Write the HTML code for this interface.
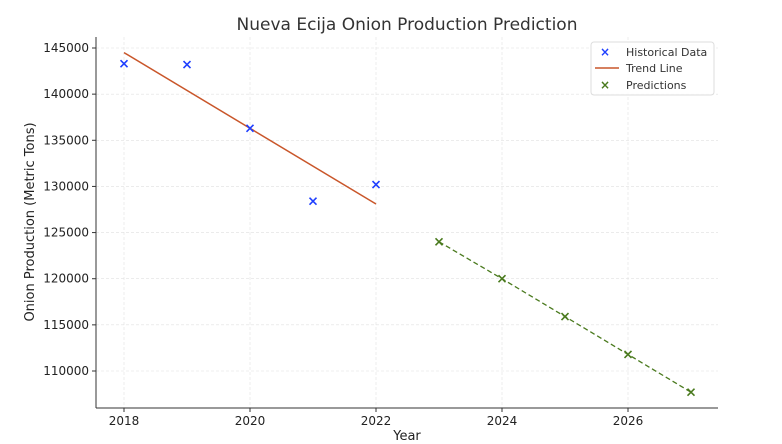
<!DOCTYPE html>
<html><head><meta charset="utf-8"><style>
html,body{margin:0;padding:0;background:#fff;}
svg{display:block;font-family:"DejaVu Sans","Liberation Sans",sans-serif;}
</style></head><body>
<svg id="chart" width="782" height="444" xmlns="http://www.w3.org/2000/svg">
<text x="407" y="30" text-anchor="middle" font-size="17" fill="#333">Nueva Ecija Onion Production Prediction</text>
<g id="grid"></g>
<g id="ticks"></g>
<g id="marks"></g>
<line x1="96" y1="37" x2="96" y2="408" stroke="#333"/>
<line x1="96" y1="408" x2="718" y2="408" stroke="#333"/>
<text x="407" y="440" text-anchor="middle" font-size="13" fill="#222">Year</text>
<text transform="translate(34,222) rotate(-90)" text-anchor="middle" font-size="13" fill="#222">Onion Production (Metric Tons)</text>
<g>
<rect x="591" y="42" width="123" height="53" rx="3" fill="#fff" fill-opacity="0.85" stroke="#ddd"/>
<text x="605" y="56" text-anchor="middle" font-size="12" fill="#1f3fff" font-weight="bold">×</text>
<text x="626" y="56" font-size="11" fill="#333">Historical Data</text>
<line x1="595" y1="68" x2="619" y2="68" stroke="#c9562a" stroke-width="1.5"/>
<text x="626" y="72" font-size="11" fill="#333">Trend Line</text>
<text x="605" y="89" text-anchor="middle" font-size="12" fill="#4a7a1e" font-weight="bold">×</text>
<text x="626" y="89" font-size="11" fill="#333">Predictions</text>
</g>
</svg>
<script>
const histYears=[2018,2019,2020,2021,2022];
const histValues=[143300,143200,136300,128400,130200];
const trendYears=[2018,2022];
const trendValues=[144500,128100];
const predYears=[2023,2024,2025,2026,2027];
const predValues=[124000,120000,115900,111800,107700];
const xTicks=[2018,2020,2022,2024,2026];
const yTicks=[110000,115000,120000,125000,130000,135000,140000,145000];
const NS="http://www.w3.org/2000/svg";
function xs(v){return 124+(v-2018)*63;}
function ys(v){return 371-(v-110000)*323/35000;}
function mk(tag,attrs,parent){const e=document.createElementNS(NS,tag);for(const k in attrs)e.setAttribute(k,attrs[k]);parent.appendChild(e);return e;}
const grid=document.getElementById('grid'),ticks=document.getElementById('ticks'),marks=document.getElementById('marks');
xTicks.forEach(t=>{
 const g=mk('line',{x1:xs(t),x2:xs(t),y1:37,y2:408,stroke:'#e0e0e0','stroke-dasharray':'3,2','stroke-width':0.6},grid);
 
 
 mk('line',{x1:xs(t),x2:xs(t),y1:408,y2:412,stroke:'#333'},ticks);
 const l=mk('text',{x:xs(t),y:425,'text-anchor':'middle','font-size':12,fill:'#222'},ticks);
 l.textContent=t;
 
 
});
yTicks.forEach(t=>{
 const g=mk('line',{x1:96,x2:718,y1:ys(t),y2:ys(t),stroke:'#e0e0e0','stroke-dasharray':'3,2','stroke-width':0.6},grid);
 
 
 mk('line',{x1:92,x2:96,y1:ys(t),y2:ys(t),stroke:'#333'},ticks);
 const l=mk('text',{x:89,y:ys(t)+4,'text-anchor':'end','font-size':12,fill:'#222'},ticks);
 l.textContent=t;
 
 
});
const tl=mk('line',{x1:xs(trendYears[0]),y1:ys(trendValues[0]),x2:xs(trendYears[1]),y2:ys(trendValues[1]),stroke:'#c9562a','stroke-width':1.5},marks);


const pp=mk('polyline',{points:predYears.map((y,i)=>xs(y)+','+ys(predValues[i])).join(' '),fill:'none',stroke:'#4a7a1e','stroke-width':1.3,'stroke-dasharray':'5,3'},marks);


function cross(x,y,c,name){
 const g=mk('path',{d:`M${x-3.5},${y-3.5}L${x+3.5},${y+3.5}M${x-3.5},${y+3.5}L${x+3.5},${y-3.5}`,stroke:c,'stroke-width':1.6},marks);
 
 
}
histYears.forEach((y,i)=>cross(xs(y),ys(histValues[i]),'#1f3fff','historical-point'));
predYears.forEach((y,i)=>cross(xs(y),ys(predValues[i]),'#4a7a1e','prediction-point'));
</script>
</body></html>
